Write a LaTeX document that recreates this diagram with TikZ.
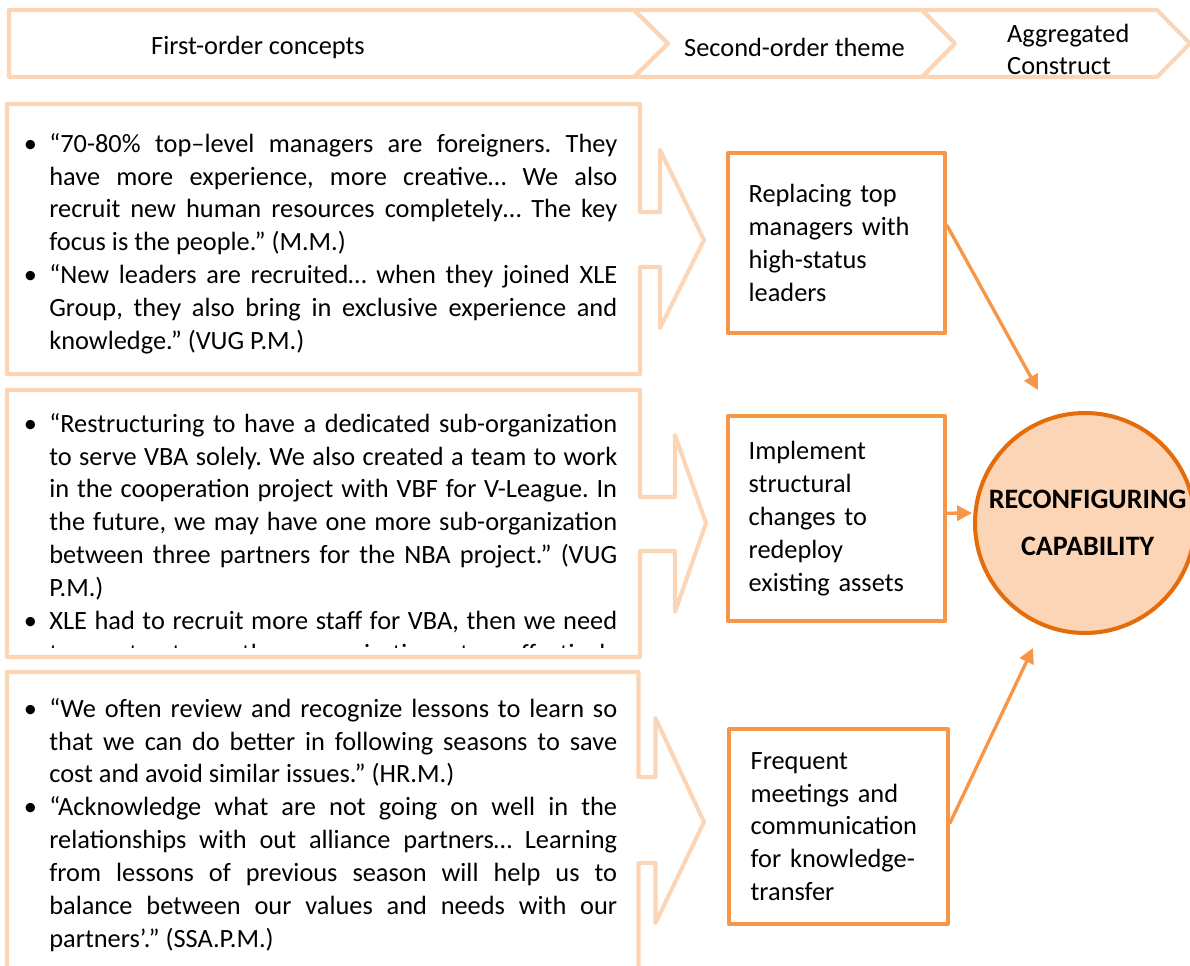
\documentclass[tikz,border=0pt]{standalone}
\usepackage{fontspec}
\setmainfont{Carlito}
\usetikzlibrary{arrows.meta}

\definecolor{peach}{HTML}{FBD5B5}
\definecolor{orangeline}{HTML}{F79646}
\definecolor{orangedark}{HTML}{E46C0A}

\newcommand{\bodyfont}{\fontsize{15}{18.7}\selectfont}
\newcommand{\qitem}{\par\noindent\llap{\textbullet\hspace{7pt}}}
\newcommand{\firstline}{\vrule height 11.5pt depth 0pt width 0pt}
\hyphenpenalty=10000
\tolerance=10000
\frenchspacing

\tikzset{
  outline/.style={draw=peach, line width=2.3pt},
  quotes/.style={anchor=north west, inner sep=0pt, text width=323.2pt, align=justify, font=\bodyfont},
  themebox/.style={draw=orangeline, line width=2.3pt, text width=100pt, inner xsep=11.75pt,
    inner ysep=0pt, align=left, font=\bodyfont},
  link/.style={draw=orangeline, line width=1.9pt, -{Triangle[length=8.5pt,width=8.5pt]}},
}

\begin{document}
\begin{tikzpicture}[x=0.02cm, y=-0.02cm, line join=round, line cap=round]
  \useasboundingbox (0,0) rectangle (1190,966);

  % Header chevrons
  \draw[outline] (9,10) -- (634,10) -- (668,43.5) -- (634,77) -- (9,77) -- cycle;
  \draw[outline] (634,10) -- (922,10) -- (955,43.5) -- (922,77) -- (634,77) -- (668,43.5) -- cycle;
  \draw[outline] (922,10) -- (1157,10) -- (1190,43.5) -- (1157,77) -- (922,77) -- (955,43.5) -- cycle;
  \node[font=\bodyfont] (hfirst) at (258,47.5) {First-order concepts};
  \node[font=\bodyfont] (hsecond) at (794.5,47.5) {Second-order theme};
  \node[font=\fontsize{15}{18.2}\selectfont, align=left, anchor=west] (hthird) at (1001,49.5) {Aggregated\\Construct};

  % Callout boxes (first-order concepts)
  \draw[outline] (7,104) -- (640,104) -- (640,212) -- (660,212) -- (660,150) -- (704,240)
    -- (660,328) -- (660,267) -- (640,267) -- (640,374) -- (7,374) -- cycle;
  \draw[outline] (7,390) -- (640,390) -- (640,497) -- (675,497) -- (675,435) -- (706,523)
    -- (675,612) -- (675,551) -- (640,551) -- (640,657) -- (7,657) -- cycle;
  \draw[outline] (7,672) -- (638.5,672) -- (638.5,777) -- (655.5,777) -- (655.5,718) -- (704,822)
    -- (655.5,923) -- (655.5,863) -- (638.5,863) -- (638.5,990) -- (7,990) -- cycle;

  \node[quotes] (qleaders) at (49,119) {%
    \qitem\firstline“70-80\% top–level managers are foreigners. They\linebreak
    have more experience, more creative… We also\linebreak
    recruit new human resources completely… The key\linebreak
    focus is the people.” (M.M.)
    \qitem “New leaders are recruited… when they joined XLE\linebreak
    Group, they also bring in exclusive experience and\linebreak
    knowledge.” (VUG P.M.)};

  \begin{scope}
    \clip (7,390) rectangle (640,647);
    \node[quotes] (qstructure) at (49,399) {%
      \qitem\firstline“Restructuring to have a dedicated sub-organization\linebreak
      to serve VBA solely. We also created a team to work\linebreak
      in the cooperation project with VBF for V-League. In\linebreak
      the future, we may have one more sub-organization\linebreak
      between three partners for the NBA project.” (VUG\linebreak
      P.M.)
      \qitem XLE had to recruit more staff for VBA, then we need\linebreak
      to restructure the organization to effectively\linebreak};
  \end{scope}

  \node[quotes] (qlessons) at (49,684) {%
    \qitem\firstline“We often review and recognize lessons to learn so\linebreak
    that we can do better in following seasons to save\linebreak
    cost and avoid similar issues.” (HR.M.)
    \qitem “Acknowledge what are not going on well in the\linebreak
    relationships with out alliance partners… Learning\linebreak
    from lessons of previous season will help us to\linebreak
    balance between our values and needs with our\linebreak
    partners’.” (SSA.P.M.)};

  % Second-order themes
  \node[themebox, minimum width=123.5pt, minimum height=102.4pt] (themeA) at (836.5,243)
    {Replacing top\\managers with\\high-status\\leaders};
  \node[themebox, minimum width=123.5pt, minimum height=116.6pt] (themeB) at (836.5,518.5)
    {Implement\\structural\\changes to\\redeploy\\existing assets};
  \node[themebox, minimum width=124.6pt, minimum height=111pt] (themeC) at (838.5,826.5)
    {Frequent\\meetings and\\communication\\for knowledge-\\transfer};

  % Aggregated construct
  \node[circle, draw=orangedark, fill=peach, line width=2.3pt, minimum size=125.2pt, inner sep=0pt,
    align=center, font=\fontsize{16}{26.7}\selectfont\bfseries] (reconf) at (1085,523)
    {\hspace*{3pt}RECONFIGURING\\\hspace*{3pt}CAPABILITY};

  \coordinate (tipA) at (1038,390);
  \coordinate (tipB) at (972,513);
  \coordinate (tipC) at (1033,648);
  \draw[link] ([yshift=10pt]themeA.east) -- (tipA);
  \draw[link] ([yshift=3pt]themeB.east) -- (tipB);
  \draw[link] ([yshift=2pt]themeC.east) -- (tipC);
\end{tikzpicture}
\end{document}
